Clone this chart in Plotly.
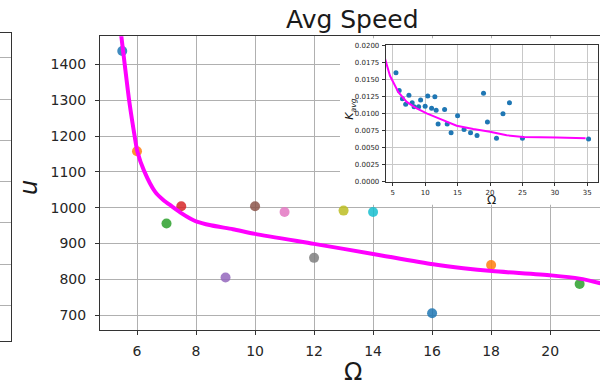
import plotly.graph_objects as go

# ---------------- data ----------------
omega_pts = [5.5, 6, 7, 7.5, 9, 10, 11, 12, 13, 14, 16, 18, 21]
u_pts = [1438, 1158, 956, 1004, 805, 1004, 988, 860, 992, 988, 705, 840, 787]
pt_colors = ["#1f77b4", "#ff7f0e", "#2ca02c", "#d62728", "#9467bd", "#8c564b",
             "#e377c2", "#7f7f7f", "#bcbd22", "#17becf", "#1f77b4", "#ff7f0e", "#2ca02c"]

fit_omega = [5.46, 5.59, 5.74, 5.93, 6.01, 6.24, 6.61, 6.9, 7.18, 7.5, 7.8, 8.0, 8.5,
             9.25, 10.0, 12.0, 14.0, 16.04, 17.06, 18.03, 20.04, 21.0, 21.7]
fit_u = [1485, 1396, 1296, 1195, 1158, 1103, 1045, 1021, 1004, 985, 970, 962, 951,
         940, 927, 899, 871, 842, 831, 823, 811, 802, 789]

inset_omega = [5.5, 6, 6.5, 7, 7.5, 8, 8.3, 9, 9.3, 10, 10.4, 11, 11.5, 11.7, 12,
               13, 13.4, 14, 15, 16, 17, 18, 19, 19.6, 21, 22, 23, 25, 35.2]
inset_k = [0.0160, 0.0134, 0.0122, 0.0114, 0.0127, 0.0116, 0.0110, 0.0110, 0.0120,
           0.0111, 0.0126, 0.0108, 0.0125, 0.0105, 0.0085, 0.0106, 0.0085, 0.0072,
           0.0097, 0.0077, 0.0072, 0.0068, 0.0130, 0.0088, 0.0064, 0.0100, 0.0116,
           0.0064, 0.0063]

inset_fit_omega = [3.8, 4.58, 5.87, 7.16, 8.7, 10.24, 12.29, 14.86, 17.42, 20.0,
                   22.57, 25.1, 30.3, 34.74]
inset_fit_k = [0.0181, 0.01555, 0.01316, 0.01172, 0.01076, 0.01004, 0.00924, 0.00824,
               0.00775, 0.00737, 0.00684, 0.0066, 0.00651, 0.00641]

main_xticks = [6, 8, 10, 12, 14, 16, 18, 20]
main_yticks = [700, 800, 900, 1000, 1100, 1200, 1300, 1400]
inset_xticks = [5, 10, 15, 20, 25, 30, 35]
inset_yticks = [0.0, 0.0025, 0.005, 0.0075, 0.01, 0.0125, 0.015, 0.0175, 0.02]

W, H = 600, 388
FONT = "DejaVu Sans"
GRID = "#b0b0b0"
SPINE = "#333333"
TXT = "#262626"

def px(x):
    return x / W

def py(y):
    return 1 - y / H

fig = go.Figure()

# main scatter points
fig.add_trace(go.Scatter(x=omega_pts, y=u_pts, mode="markers",
                         marker=dict(color=pt_colors, size=10, opacity=0.85, line=dict(width=0)),
                         xaxis="x", yaxis="y", showlegend=False, hoverinfo="skip"))
# main fit curve
fig.add_trace(go.Scatter(x=fit_omega, y=fit_u, mode="lines",
                         line=dict(color="#ff00ff", width=4, shape="spline", smoothing=0.7),
                         xaxis="x", yaxis="y", showlegend=False, hoverinfo="skip"))
# white cover behind the inset (empty subplot)
fig.add_trace(go.Scatter(x=[None], y=[None], xaxis="x2", yaxis="y2", showlegend=False, hoverinfo="skip"))
# inset
fig.add_trace(go.Scatter(x=inset_omega, y=inset_k, mode="markers",
                         marker=dict(color="#1f77b4", size=5, line=dict(width=0)),
                         xaxis="x3", yaxis="y3", showlegend=False, hoverinfo="skip"))
fig.add_trace(go.Scatter(x=inset_fit_omega, y=inset_fit_k, mode="lines",
                         line=dict(color="#ff00ff", width=2),
                         xaxis="x3", yaxis="y3", showlegend=False, hoverinfo="skip"))
# left partial panel
fig.add_trace(go.Scatter(x=[None], y=[None], xaxis="x4", yaxis="y4", showlegend=False, hoverinfo="skip"))

fig.update_layout(
    width=W, height=H,
    margin=dict(l=0, r=0, t=0, b=0),
    paper_bgcolor="white", plot_bgcolor="white",
    font=dict(family=FONT, color=TXT),
    xaxis=dict(domain=[px(100), 1.0], range=[4.746, 21.69], tickvals=main_xticks,
               ticks="outside", ticklen=4, tickwidth=1, tickcolor=SPINE,
               showline=True, linecolor=SPINE, linewidth=1, mirror=True,
               showgrid=True, gridcolor=GRID, gridwidth=1, zeroline=False,
               tickfont=dict(size=14, color=TXT), ticklabelstandoff=4),
    yaxis=dict(domain=[py(333), py(33)], range=[658, 1479], tickvals=main_yticks,
               ticks="outside", ticklen=4, tickwidth=1, tickcolor=SPINE,
               showline=True, linecolor=SPINE, linewidth=1, mirror=False,
               showgrid=True, gridcolor=GRID, gridwidth=1, zeroline=False,
               tickfont=dict(size=14, color=TXT), ticklabelstandoff=6),
    xaxis2=dict(domain=[px(340), 1.0], range=[0, 1], visible=False, anchor="y2"),
    yaxis2=dict(domain=[py(205), py(35)], range=[0, 1], visible=False, anchor="x2"),
    xaxis3=dict(domain=[px(385.7), px(598)], range=[3.92, 36.65], tickvals=inset_xticks,
                anchor="y3", ticks="outside", ticklen=3, tickwidth=1, tickcolor=SPINE,
                showline=True, linecolor=SPINE, linewidth=1, mirror=True,
                showgrid=True, gridcolor="#c8c8c8", gridwidth=1, zeroline=False,
                tickfont=dict(size=7, color=TXT), ticklabelstandoff=1),
    yaxis3=dict(domain=[py(181.7), py(42.3)], range=[0, 0.02], tickvals=inset_yticks,
                tickformat=".4f", anchor="x3", ticks="outside", ticklen=3, tickwidth=1,
                tickcolor=SPINE, showline=True, linecolor=SPINE, linewidth=1, mirror=True,
                showgrid=True, gridcolor="#c8c8c8", gridwidth=1, zeroline=False,
                tickfont=dict(size=7, color=TXT), ticklabelstandoff=1),
    xaxis4=dict(domain=[0, px(11)], range=[0, 1], anchor="y4", showline=True,
                linecolor=SPINE, linewidth=1, mirror=True, showgrid=False,
                showticklabels=False, ticks="", zeroline=False),
    yaxis4=dict(domain=[py(344), py(29.3)], range=[-0.862, 6.61], anchor="x4",
                side="right", tickvals=[0, 1, 2, 3, 4, 5, 6], showline=True,
                linecolor=SPINE, linewidth=1, showgrid=True, gridcolor=GRID,
                gridwidth=1, showticklabels=False, ticks="", zeroline=False),
)

annotations = [
    dict(text="Avg Speed", x=px(352), y=py(16), font=dict(size=25, color="#1a1a1a")),
    dict(text="<i>u</i>", x=px(29), y=py(188), textangle=-90, font=dict(size=24, color="#1a1a1a")),
    dict(text="Ω", x=px(352.7), y=py(376), font=dict(size=24, color="#1a1a1a")),
    dict(text="Ω", x=px(491.7), y=py(200), font=dict(size=12, color="#1a1a1a")),
    dict(text="<i>K</i><sub><i>avg</i></sub>", x=px(350), y=py(108), textangle=-90,
         font=dict(size=11, color="#1a1a1a")),
]
for a in annotations:
    a.update(xref="paper", yref="paper", xanchor="center", yanchor="middle",
             showarrow=False)
fig.update_layout(annotations=annotations)

fig.write_html("out.html", config={"displayModeBar": False},
               post_script="document.body.style.margin='0';document.body.style.padding='0';")
